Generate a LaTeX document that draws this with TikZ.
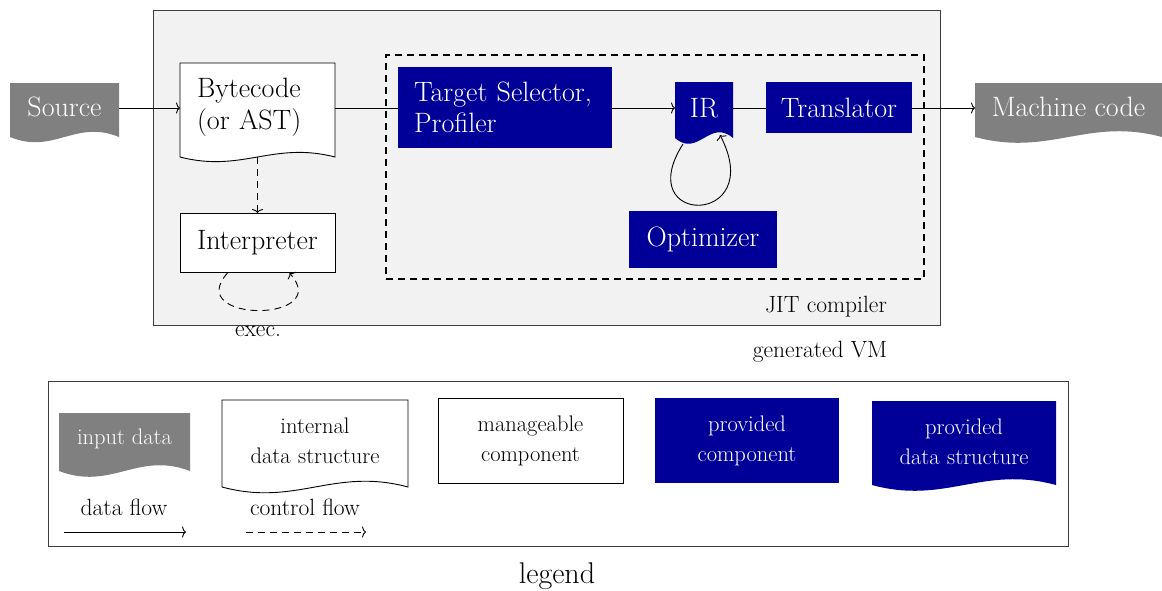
\documentclass[tikz,border=0pt]{standalone}
\usetikzlibrary{calc,arrows.meta}
\definecolor{provblue}{RGB}{0,0,153}
\definecolor{inputgray}{RGB}{128,128,128}
\definecolor{vmfill}{RGB}{242,242,242}
\definecolor{vmline}{RGB}{60,60,60}
\pgfdeclarelayer{bg}
\pgfdeclarelayer{docs}
\pgfsetlayers{bg,docs,main}
% #1 node, #2 style, #3 wave control, #4 side extension below south
\newcommand\docshape[4]{%
  \begin{pgfonlayer}{docs}
  \path[#2] ($(#1.south west)+(0,#4)$) -- (#1.north west) -- (#1.north east) -- ($(#1.south east)+(0,#4)$)
    .. controls ($(#1.south east)!0.4!(#1.south west)+(0,#4-#3)$) and ($(#1.south east)!0.6!(#1.south west)+(0,#4+#3)$)
    .. ($(#1.south west)+(0,#4)$) -- cycle;
  \end{pgfonlayer}}
\tikzset{
  every node/.style={inner sep=0pt, outer sep=0pt},
  bigfont/.style={font=\fontsize{28}{32}\selectfont},
  smallfont/.style={font=\fontsize{23.5}{27}\selectfont},
  legfont/.style={font=\fontsize{22.5}{30}\selectfont},
  blk/.style={anchor=north west, bigfont},
  lblk/.style={anchor=north west, legfont, align=center},
  comp/.style={draw, fill=white, line width=0.9pt},
  prov/.style={fill=provblue, text=white},
  inp/.style={text=white},
  docwhite/.style={draw, fill=white, line width=0.9pt},
  docblue/.style={fill=provblue},
  docgray/.style={fill=inputgray},
  flow/.style={-{To[length=4pt,width=11pt]}, line width=0.9pt},
  ctrl/.style={flow, dash pattern=on 7pt off 5pt},
  plain/.style={line width=0.9pt},
}
\begin{document}
\begin{tikzpicture}[x=1pt, y=-1pt]
\useasboundingbox (0,0) rectangle (1162,590);
\coordinate (row) at (0,108);

% generated VM box
\begin{pgfonlayer}{bg}
\node[anchor=north west, draw=vmline, fill=vmfill, line width=0.9pt, minimum width=787, minimum height=315] (vm) at (153,10) {};
\node[anchor=north west, draw=vmline, line width=0.9pt, minimum width=1020, minimum height=165] (leg) at (48,381) {};
\end{pgfonlayer}
\node[anchor=north west, draw, line width=1.6pt, dash pattern=on 7pt off 5pt, minimum width=538, minimum height=224] (jit) at (386,55) {};
\node[smallfont] (jitlbl) at (826,307) {JIT compiler};
\node[smallfont] (vmlbl) at (820,352) {generated VM};

% main row
\node[blk, inp, minimum width=109, minimum height=48] (src) at (10,83) {Source};
\docshape{src}{docgray}{18}{6}
\node[blk, minimum height=88, text width=121, inner xsep=17pt, align=left] (bc) at (180,63) {Bytecode\\(or AST)};
\docshape{bc}{docwhite}{16}{6}
\node[blk, comp, minimum width=155, minimum height=59] (interp) at (180,213) {Interpreter};
\node[blk, prov, minimum height=81, text width=182, inner xsep=16pt, align=left, font=\fontsize{28}{31}\selectfont] (tgt) at (398,67) {Target Selector,\\Profiler};
\node[blk, inp, minimum width=58, minimum height=52] (ir) at (675,82) {IR};
\docshape{ir}{docblue}{20}{4}
\node[blk, prov, minimum width=146, minimum height=51] (tr) at (766,82) {Translator};
\node[blk, prov, minimum width=148, minimum height=57] (opt) at (629,211) {Optimizer};
\node[blk, inp, minimum width=187, minimum height=48] (mc) at (975,83) {Machine code};
\docshape{mc}{docgray}{20}{6}

% connectors
\draw[flow] (src.east |- row) -- (bc.west |- row);
\draw[plain] (bc.east |- row) -- (tgt.west |- row);
\draw[flow] (tgt.east |- row) -- (ir.west |- row);
\draw[plain] (ir.east |- row) -- (tr.west |- row);
\draw[flow] (tr.east |- row) -- (mc.west |- row);
\draw[ctrl] ($(bc.south)+(0,6)$) -- (interp.north);
\draw[ctrl] ($(interp.south)+(-30,1)$) .. controls +(-45,50) and +(45,50) .. ($(interp.south)+(32,1)$);
\node[smallfont] (exec) at (258,331) {exec.};
\draw[flow] ($(ir.south)+(-21,10)$) .. controls (630,227) and (768,227) .. ($(ir.south)+(16,1)$);

% legend
\node[lblk, inp, minimum width=131, minimum height=52] (lin) at (59,413) {input data};
\docshape{lin}{docgray}{20}{6}
\node[smallfont] (ldf) at (124,507) {data flow};
\coordinate (df1) at (64,532);
\coordinate (df2) at (186,532);
\draw[flow] (df1) -- (df2);
\node[lblk, minimum width=186, minimum height=82] (lint) at (222,400) {internal\\data\,\,structure};
\docshape{lint}{docwhite}{20}{5}
\node[smallfont] (lcf) at (305,507) {control flow};
\coordinate (cf1) at (246,532);
\coordinate (cf2) at (366,532);
\draw[ctrl] (cf1) -- (cf2);
\node[lblk, comp, minimum width=185, minimum height=85] (lman) at (438,398) {manageable\\component};
\node[lblk, prov, minimum width=184, minimum height=85] (lprov) at (655,398) {provided\\component};
\node[lblk, inp, minimum width=184, minimum height=82] (lpds) at (872,401) {provided\\data\,\,structure};
\docshape{lpds}{docblue}{20}{2}
\node[font=\fontsize{30}{34}\selectfont] (legt) at (557,576) {legend};
\end{tikzpicture}
\end{document}
